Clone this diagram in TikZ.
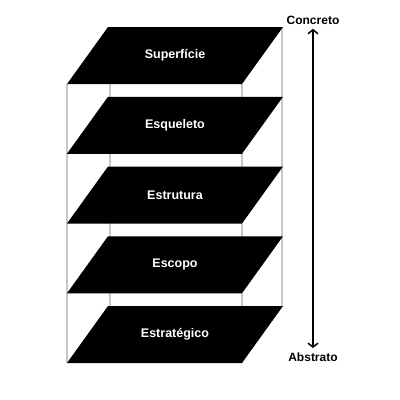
\documentclass[tikz,border=0pt]{standalone}
\usepackage{fontspec}
\setmainfont{Liberation Sans}
\usetikzlibrary{arrows.meta}
\begin{document}
\begin{tikzpicture}[x=1pt,y=-1pt,
  camada/.style={fill=black},
  rotulo/.style={text=white,font=\bfseries\fontsize{12.5}{14}\selectfont},
  extremo/.style={font=\bfseries\fontsize{12}{14}\selectfont},
  haste/.style={draw=black!22,line width=1.8pt}]
  \useasboundingbox (0,0) rectangle (400,400);

  % hastes verticais
  \draw[haste] (67,84) -- (67,363);
  \draw[haste] (242,84) -- (242,363);
  \draw[haste] (110,27) -- (110,306);
  \draw[haste] (282,27) -- (282,306);

  % camadas
  \foreach \i/\nome in {0/Superfície,1/Esqueleto,2/Estrutura,3/Escopo,4/Estratégico}{
    \pgfmathsetmacro\t{27+69.75*\i}
    \fill[camada] (108,\t) -- (283,\t) -- (242,\t+57) -- (67,\t+57) -- cycle;
    \node[rotulo] (camada\i) at (175,\t+28.5) {\nome};
  }

  % eixo concreto / abstrato
  \node[extremo] (concreto) at (313,20) {Concreto};
  \node[extremo] (abstrato) at (313,357) {Abstrato};
  \draw[{Straight Barb[length=4pt,width=10pt]}-{Straight Barb[length=4pt,width=10pt]},line width=1.5pt,
    shorten <=1pt,shorten >=1pt] (concreto) -- (abstrato);
\end{tikzpicture}
\end{document}
